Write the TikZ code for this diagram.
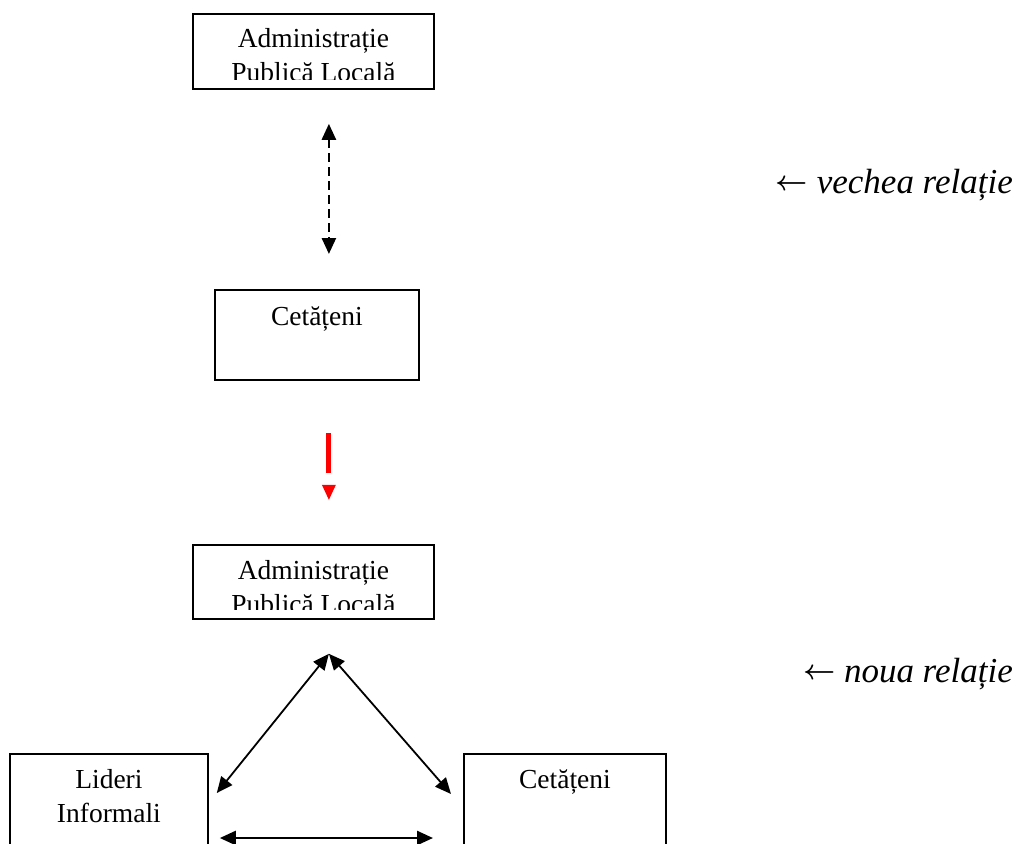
\documentclass[tikz,border=0pt]{standalone}
\usepackage{fontspec}
\setmainfont{Liberation Serif}
\usetikzlibrary{arrows.meta}
\newcommand\douarand[2]{\begin{tabular}[t]{@{}c@{}}#1\\#2\end{tabular}}
\newcommand\sageata{\raisebox{2.5pt}{\scalebox{2.8}{\fontsize{10}{12}\selectfont\boldmath$\leftarrow$}}}
\tikzset{
  casuta/.style={draw, line width=1.8pt, inner sep=0pt, anchor=north west},
  textcasuta/.style={inner sep=0pt, anchor=base, font=\fontsize{27.5}{34}\selectfont},
  eticheta/.style={inner sep=0pt, anchor=base east, font=\fontsize{35}{40}\selectfont},
  varfnegru/.style={{Triangle[length=16pt,width=14pt]}-{Triangle[length=16pt,width=14pt]}},
}
\begin{document}
\begin{tikzpicture}[x=1pt,y=-1pt]
    \clip (0,0) rectangle (1016,843);
    \node[casuta, minimum width=241pt, minimum height=75pt] (apl1) at (192,13) {};
    \node[casuta, minimum width=204pt, minimum height=90pt] (cet1) at (214,289) {};
    \node[casuta, minimum width=241pt, minimum height=74pt] (apl2) at (192,544) {};
    \node[casuta, minimum width=198pt, minimum height=120pt] (lid) at (9,753) {};
    \node[casuta, minimum width=202pt, minimum height=120pt] (cet2) at (463,753) {};
    \begin{scope}
        \clip (apl1.north west) rectangle ([yshift=10.5pt]apl1.south east);
        \node[textcasuta] (apl1t) at ([yshift=-35pt]apl1.north) {\douarand{Administrație}{Publică Locală}};
    \end{scope}
    \begin{scope}
        \clip (apl2.north west) rectangle ([yshift=10.5pt]apl2.south east);
        \node[textcasuta] (apl2t) at ([yshift=-35pt]apl2.north) {\douarand{Administrație}{Publică Locală}};
    \end{scope}
    \node[textcasuta] (cet1t) at ([yshift=-36pt]cet1.north) {Cetățeni};
    \node[textcasuta] (cet2t) at ([yshift=-35pt]cet2.north) {Cetățeni};
    \node[textcasuta] (lidt) at ([yshift=-35pt]lid.north) {\douarand{Lideri}{Informali}};
    \draw[varfnegru, line width=2.5pt, dash pattern=on 9pt off 5pt] ([xshift=15.5pt,yshift=-34pt]apl1.south) -- ([xshift=12pt,yshift=35pt]cet1.north);
    \coordinate (rosu1) at ([xshift=12pt,yshift=-52pt]cet1.south);
    \coordinate (rosu2) at ([xshift=12pt,yshift=-92pt]cet1.south);
    \coordinate (rosu3) at ([xshift=12pt,yshift=-119pt]cet1.south);
    \draw[red, line width=5pt] (rosu1) -- (rosu2);
    \fill[red] ([shift={(-7pt,15pt)}]rosu3) -- ([shift={(7pt,15pt)}]rosu3) -- (rosu3) -- cycle;
    \coordinate (varf) at ([xshift=15.5pt,yshift=-34pt]apl2.south);
    \draw[varfnegru, line width=1.8pt] (varf) -- ([xshift=8pt,yshift=-40pt]lid.north east);
    \draw[varfnegru, line width=1.8pt] (varf) -- ([xshift=-12pt,yshift=-41pt]cet2.north west);
    \draw[varfnegru, line width=2.5pt] ([xshift=11pt,yshift=-85pt]lid.north east) -- ([xshift=-30pt,yshift=-85pt]cet2.north west);
    \node[eticheta] (vechea) at (1013,193) {\sageata\ \textit{vechea relație}};
    \node[eticheta] (noua) at (1013,682) {\sageata\ \textit{noua relație}};
\end{tikzpicture}
\end{document}
